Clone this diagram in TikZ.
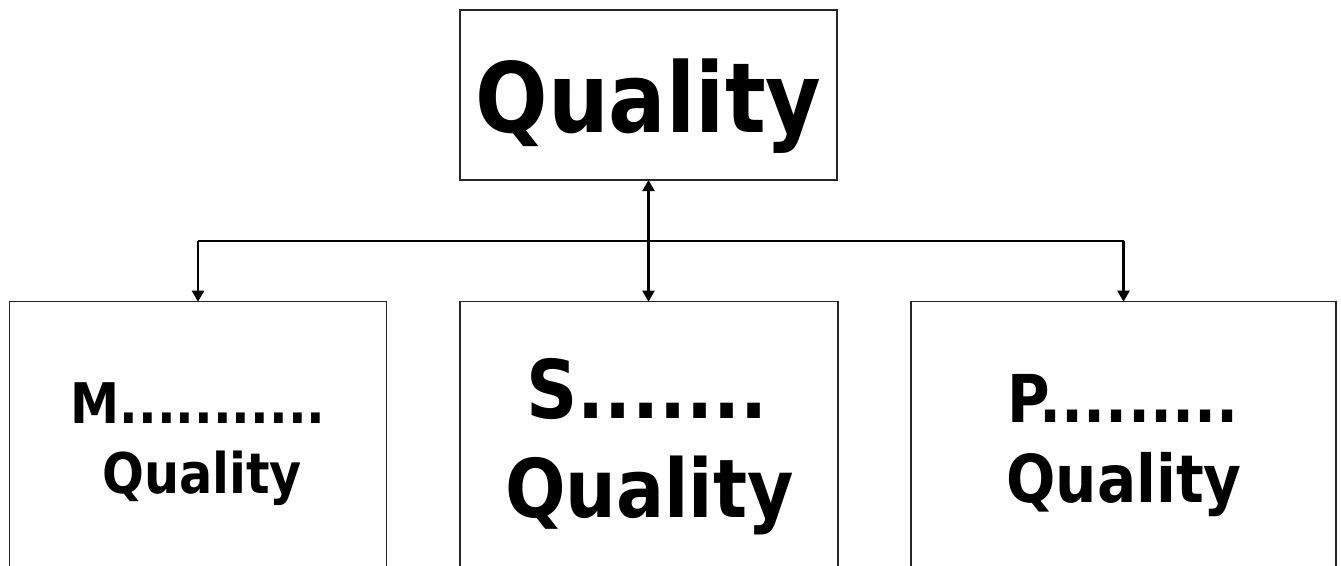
\documentclass[tikz,border=0pt]{standalone}
\usepackage{fontspec}
\newfontfamily\qf[FakeStretch=0.88]{DejaVu Sans}
\usetikzlibrary{arrows.meta}
\tikzset{
  boxnode/.style={draw=black!85, line width=1.4bp, fill=white, inner sep=0pt, outer sep=0pt, rectangle},
  txt/.style={inner sep=0pt, outer sep=0pt, anchor=base, font=\qf\bfseries},
  conn/.style={line width=2.2bp, black},
  tip/.style={-{Triangle[length=11bp,width=12bp]}},
  tips/.style={{Triangle[length=11bp,width=12bp]}-{Triangle[length=11bp,width=12bp]}}
}
\begin{document}
\begin{tikzpicture}[x=1bp,y=-1bp]
\useasboundingbox (0,0) rectangle (1341,566);
\begin{scope}
\clip (0,0) rectangle (1341,566);
% boxes
\node[boxnode, minimum width=377bp, minimum height=170bp, anchor=north west] (T) at (460,10) {};
\node[boxnode, minimum width=377bp, minimum height=330bp, anchor=north west] (B1) at (9.5,301.7) {};
\node[boxnode, minimum width=378bp, minimum height=330bp, anchor=north west] (B2) at (460,301.7) {};
\node[boxnode, minimum width=425bp, minimum height=330bp, anchor=north west] (B3) at (911,301.7) {};
\end{scope}
% texts
\node[txt, font=\qf\bfseries\fontsize{97bp}{110bp}\selectfont] (t0) at (648.5,133) {Quality};
\node[txt, font=\qf\bfseries\fontsize{56bp}{68bp}\selectfont] (t1a) at (198,423) {M...........};
\node[txt, font=\qf\bfseries\fontsize{56bp}{68bp}\selectfont] (t1b) at (202,493) {Quality};
\node[txt, font=\qf\bfseries\fontsize{81bp}{99bp}\selectfont] (t2a) at (647,418) {S.......};
\node[txt, font=\qf\bfseries\fontsize{81bp}{99bp}\selectfont] (t2b) at (649.5,517) {Quality};
\node[txt, font=\qf\bfseries\fontsize{66bp}{80bp}\selectfont] (t3a) at (1123,422) {P.........};
\node[txt, font=\qf\bfseries\fontsize{66bp}{80bp}\selectfont] (t3b) at (1124,502) {Quality};
% connectors
\coordinate (hy) at (0,241);
\draw[conn] (B1.north |- hy) -- (B3.north |- hy);
\draw[conn, tip] (B1.north |- hy) -- (B1.north);
\draw[conn, tip] (B3.north |- hy) -- (B3.north);
\draw[conn, tips] (T.south) -- (T.south |- B2.north);
\end{tikzpicture}
\end{document}
